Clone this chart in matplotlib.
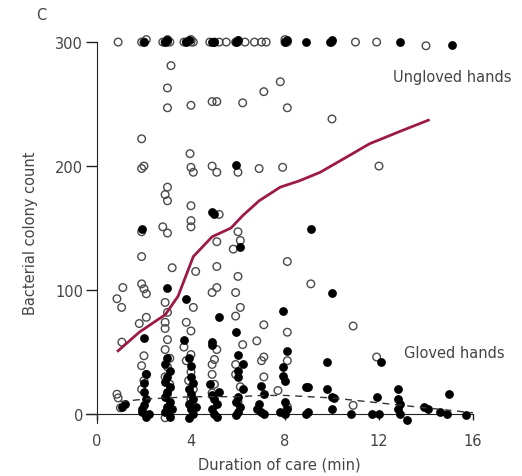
import numpy as np
import matplotlib.pyplot as plt

# ungloved hands (open circles): duration (min), colony count
ung_x = [0.9, 1.9, 2.0, 2.8, 2.9, 3.0, 3.1, 3.7, 3.8, 4.0, 4.1, 4.8, 5.0, 5.2, 5.5, 5.9, 6.0, 6.3, 6.7, 7.0,
         7.2, 8.0, 8.1, 10.0, 11.0, 11.9, 14.0, 2.1, 3.0, 4.0, 6.0, 8.0,
         3.15, 3.0, 3.0, 4.0, 4.9, 5.1, 6.2, 7.1, 7.8, 8.1, 10.0, 1.9, 3.96,
         2.0, 1.9, 4.0, 4.1, 4.9, 5.1, 6.0, 6.9, 7.9, 12.0,
         3.0, 2.9, 3.0, 4.0, 4.0, 4.0, 5.2, 1.9, 2.8, 3.0, 6.0, 6.1, 5.8, 5.1,
         1.9, 3.2, 4.2, 5.1, 6.0, 8.1, 9.1, 1.1, 1.9, 2.0, 2.1, 0.85, 1.05, 4.1, 4.9, 5.1, 5.9, 6.1,
         2.9, 3.0, 2.1, 1.8, 1.06, 2.9, 2.9, 3.8, 4.0, 3.7, 4.0, 3.8,
         5.9, 7.1, 8.1, 6.8, 6.2, 5.1, 7.1, 7.0, 5.0, 4.9, 5.9, 8.1, 4.9, 5.9, 7.1, 6.1, 7.7, 8.1,
         10.9, 11.9, 10.9,
         2.0, 1.9, 2.1, 2.0, 1.9,
         3.0, 2.9, 3.1, 3.0, 2.9, 3.1, 3.0, 2.9,
         4.0, 3.9, 4.1, 4.0, 5.0, 4.9, 0.85, 0.9, 1.0, 6.0]
ung_y = [300, 300, 300, 300, 300, 300, 300, 300, 300, 300, 300, 300, 300, 300, 300, 300, 300, 300, 300, 300,
         300, 300, 300, 300, 300, 300, 297, 302, 302, 302, 301, 302,
         281, 263, 247, 249, 252, 252, 251, 260, 268, 247, 238, 222, 210,
         200, 198, 199, 195, 200, 195, 195, 198, 199, 200,
         183, 177, 172, 168, 156, 151, 161, 147, 151, 146, 147, 140, 133, 139,
         127, 118, 115, 119, 111, 123, 105, 102, 105, 101, 97, 93, 86, 86, 98, 102, 98, 86,
         90, 82, 78, 73, 58, 74, 69, 74, 67, 54, 48, 43,
         79, 72, 66, 59, 56, 52, 46, 43, 44, 40, 40, 43, 32, 32, 30, 22, 19, 6,
         71, 46, 7,
         47, 39, 32, 27, 20,
         60, 52, 45, 38, 30, 24, 16, -3,
         34, 27, 20, 12, 24, 17, 16, 13, 5, 10]

# gloved hands (filled circles)
glo_x = [2.0, 2.9, 3.8, 4.9, 5.0, 5.9, 8.0, 8.9, 9.9, 12.9, 15.1, 3.0, 3.9, 6.0, 8.1, 10.0,
         5.9, 4.9, 5.0, 1.9, 6.1, 9.1, 3.0, 10.0, 3.8, 7.9, 5.2, 5.9, 2.0, 3.7, 4.9, 4.9, 6.0, 8.1,
         9.8, 6.2, 7.9, 6.0, 6.0, 7.9, 8.0, 7.0, 8.9, 9.8, 7.1, 10.0, 6.8, 7.0, 7.8, 8.9, 10.0,
         12.1, 9.0, 12.8, 15.0, 11.9, 10.1, 12.8, 12.9, 12.8, 12.9, 13.2, 13.9, 14.1, 14.6, 14.9,
         15.7, 10.8, 11.7, 12.0, 8.0, 4.0,
         1.05, 1.2,
         2.0, 2.1, 2.0, 1.9, 2.1, 2.0, 2.1, 1.9, 2.2,
         3.0, 2.9, 3.1, 3.0, 2.9, 3.1, 3.0, 2.9, 3.1, 3.0, 2.9, 3.1, 3.2,
         3.9, 4.0, 4.1, 3.9, 4.0, 4.1, 3.9, 4.0, 4.1, 3.9, 4.2,
         4.9, 5.0, 5.1, 4.9, 5.0, 5.1, 5.2, 4.8,
         6.0, 5.9, 6.1, 6.0, 5.9, 6.2,
         6.9, 7.1, 8.0, 8.1, 9.0]
glo_y = [300, 300, 300, 300, 300, 300, 300, 300, 300, 300, 298, 302, 302, 302, 302, 302,
         201, 163, 161, 149, 135, 149, 102, 98, 93, 83, 78, 66, 61, 60, 56, 58, 48, 51,
         42, 40, 38, 35, 30, 31, 27, 23, 22, 20, 16, 14, 4, 2, 2, 0, 4,
         42, 22, 20, 16, 14, 13, 12, 8, 4, 0, -5, 6, 4, 2, 0,
         -1, 0, 0, 0, 0, 39,
         6, 8,
         18, 12, 7, 2, -2, 25, 32, 4, 0,
         45, 40, 35, 30, 26, 22, 18, 14, 10, 6, 2, -2, 4,
         45, 30, 25, 20, 16, 12, 8, 4, 0, -3, 6,
         15, 12, 8, 4, 0, -2, 18, 24,
         14, 10, 6, 2, -1, 20,
         8, 0, 10, 4, 2]

# smoothed trends
ung_fit_x = [0.9, 1.8, 2.5, 2.9, 3.45, 4.1, 4.9, 5.7, 6.2, 6.9, 7.8, 8.6, 9.5, 10.6, 11.6, 12.9, 14.1]
ung_fit_y = [51, 66, 75, 80, 95, 127, 143, 150, 160, 172, 183, 188, 195, 207, 218, 228, 237]
glo_fit_x = [1, 2, 3, 4, 5, 6, 7, 8, 9, 10, 11, 12, 13, 14, 15, 16]
glo_fit_y = [10, 12, 13, 14, 14, 14, 15, 15, 14, 13, 11, 9, 7, 5, 3, 1]

txt = '#444444'
plt.rcParams['font.family'] = 'DejaVu Sans'

fig = plt.figure(figsize=(5.22, 4.77), dpi=100)
ax = fig.add_axes([0.1655, 0.1117, 0.7406, 0.798])

ax.scatter(ung_x, ung_y, s=30, facecolors='none', edgecolors='#4a4a4a', linewidths=1.0, clip_on=False, zorder=2)
ax.scatter(glo_x, glo_y, s=28, color='black', clip_on=False, zorder=3)
ax.plot(ung_fit_x, ung_fit_y, color='#9c1a48', lw=2, zorder=4)
ax.plot(glo_fit_x, glo_fit_y, color='#333333', lw=1, ls=(0, (5, 4)), zorder=4)

ax.set_xlim(-0.45, 16)
ax.set_ylim(-7, 300)
for s in ['top', 'right']:
    ax.spines[s].set_visible(False)
ax.spines['left'].set_position(('data', 0))
ax.spines['bottom'].set_position(('data', 0))
ax.spines['left'].set_color('#222222')
ax.spines['bottom'].set_color('#222222')

ax.set_xticks([0, 4, 8, 12, 16])
ax.set_yticks([0, 100, 200, 300])
ax.tick_params(axis='y', length=8, width=1, pad=2, labelsize=10.5, colors='#222222', labelcolor=txt)
ax.tick_params(axis='x', direction='out', length=4, width=1, pad=10, labelsize=10.5, colors='#222222', labelcolor=txt)

ax.set_xlabel('Duration of care (min)', fontsize=10.5, color=txt, labelpad=6)
ax.set_ylabel('Bacterial colony count', fontsize=10.5, color=txt, labelpad=12)

ax.text(15.1, 272, 'Ungloved hands', fontsize=10.5, color=txt, ha='center', va='center')
ax.text(15.2, 50, 'Gloved hands', fontsize=10.5, color=txt, ha='center', va='center')
fig.text(0.07, 0.967, 'C', fontsize=10.5, color=txt, ha='left', va='center')

fig.savefig('out.png', dpi=100)
